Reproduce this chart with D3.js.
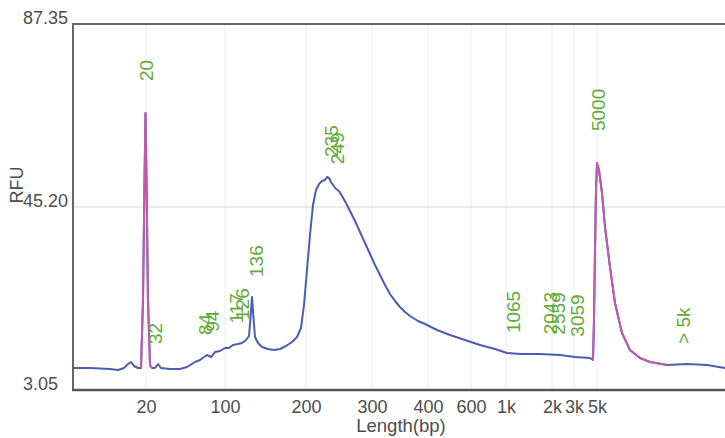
<!DOCTYPE html>
<html>
<head>
<meta charset="utf-8">
<script src="https://cdn.jsdelivr.net/npm/d3@7"></script>
<style>
  body { margin: 0; background: #fff; }
  svg { display: block; font-family: "Liberation Sans", Arial, sans-serif; }
</style>
</head>
<body>
<div id="chart"></div>
<script>
// Oś Y (RFU)
const yTicks = [3.05, 45.20, 87.35];

// Drabinka: rozmiar (bp) -> czas migracji
const ladderLabels = ["20", "100", "200", "300", "400", "600", "1k", "2k", "3k", "5k"];
const ladderTime = [7.3, 15.2, 23.3, 29.9, 35.5, 39.8, 43.3, 47.9, 50.1, 52.4];

// Przebieg sygnału (czas migracji, RFU)
const traceTime = [0, 1.7, 3.7, 4.5, 5.1, 5.5, 5.8, 6.1, 6.5, 6.8, 7.0, 7.15, 7.25, 7.35, 7.5, 7.7, 7.9,
  8.2, 8.5, 8.8, 9.7, 10.7, 11.4, 12.2, 12.7, 13.1, 13.4, 13.8, 14.2, 14.7, 15.2, 15.6, 16.0, 16.5,
  16.9, 17.3, 17.6, 17.75, 17.9, 18.05, 18.2, 18.5, 18.9, 19.5, 20.1, 20.7, 21.3, 21.9, 22.4, 22.8,
  23.1, 23.4, 23.7, 24.0, 24.3, 24.6, 24.9, 25.2, 25.4, 25.6, 25.8, 26.0, 26.3, 26.6, 26.9, 27.3,
  27.7, 28.2, 28.7, 29.2, 29.7, 30.2, 30.7, 31.2, 31.7, 32.2, 32.7, 33.2, 33.7, 34.5, 35.2, 36.4,
  37.7, 39.2, 40.7, 42.2, 43.4, 44.7, 46.7, 48.7, 50.2, 51.7, 52.0, 52.1, 52.2, 52.3, 52.4, 52.6,
  52.9, 53.2, 53.7, 54.2, 54.9, 55.7, 56.7, 57.7, 59.4, 61.4, 63.4, 65.2];
const traceRfu = [8.12, 8.12, 7.89, 7.66, 8.12, 9.04, 9.50, 8.58, 8.12, 8.12, 23.78, 51.42, 66.85, 51.42, 23.78, 8.81, 8.12,
  8.12, 9.04, 8.12, 7.89, 7.89, 8.35, 9.50, 9.96, 10.65, 11.11, 10.65, 11.80, 12.03, 12.72, 12.72, 13.41, 13.64,
  13.88, 14.57, 15.49, 19.63, 24.47, 19.63, 15.26, 13.88, 12.95, 12.49, 12.26, 12.49, 13.18, 14.11, 15.26, 17.33,
  22.63, 30.69, 38.75, 45.66, 49.12, 50.50, 51.19, 51.42, 52.11, 51.88, 50.96, 50.27, 49.35, 48.89, 47.73, 46.12,
  44.28, 41.98, 39.44, 36.91, 34.37, 31.84, 29.54, 27.23, 25.16, 23.55, 22.17, 21.02, 20.09, 18.94, 18.25, 16.87,
  15.72, 14.57, 13.41, 12.49, 11.57, 11.34, 11.34, 11.11, 10.65, 10.42, 9.96, 19.17, 35.30, 49.12, 55.33, 53.72,
  48.42, 40.59, 31.38, 23.09, 16.18, 12.26, 10.42, 9.50, 8.81, 9.04, 8.81, 8.12];

// Zakresy pików markerów (rysowane na różowo)
const markerSpans = [[6.75, 7.95], [51.95, 59.5]];

// Podpisy pików
const peakNames = ["20", "32", "84", "94", "117", "126", "136", "235", "249", "1065", "2043", "2559", "3059", "5000", "> 5k"];
const peakTime = [7.35, 8.2, 13.2, 13.9, 16.3, 16.9, 18.3, 25.8, 26.4, 44.0, 47.7, 48.5, 50.4, 52.5, 61.0];
const peakMarker = [true, false, false, false, false, false, false, false, false, false, false, false, false, true, false];

const W = 725, H = 438;
const plot = { left: 73, right: 725, top: 24, bottom: 390 };

const svg = d3.select("#chart").append("svg").attr("width", W).attr("height", H);

const x = d3.scaleLinear().domain([0, 65.2]).range([plot.left, plot.right]);
const y = d3.scaleLinear().domain([yTicks[0], yTicks[2]]).range([plot.bottom, plot.top]);

const data = traceTime.map((t, i) => ({ t: t, v: traceRfu[i] }));

// Siatka
svg.append("g").selectAll("line").data(ladderTime).enter().append("line")
  .attr("x1", (d) => x(d)).attr("x2", (d) => x(d))
  .attr("y1", plot.top).attr("y2", plot.bottom)
  .style("stroke", "#ececec").style("stroke-width", 1);
svg.append("line")
  .attr("x1", plot.left).attr("x2", plot.right)
  .attr("y1", y(yTicks[1])).attr("y2", y(yTicks[1]))
  .style("stroke", "#e4e4e4").style("stroke-width", 1.5);

// Linia sygnału
const line = d3.line().x((d) => x(d.t)).y((d) => y(d.v));
svg.append("path").datum(data).attr("d", line)
  .style("fill", "none").style("stroke", "#4b5cb4").style("stroke-width", 2)
  .style("stroke-linejoin", "round");

for (const span of markerSpans) {
  const seg = data.filter((d) => d.t >= span[0] && d.t <= span[1]);
  svg.append("path").datum(seg).attr("d", line)
    .style("fill", "none").style("stroke", "#c05aaa").style("stroke-width", 2)
    .style("stroke-linejoin", "round");
}

// Wartość sygnału w danym czasie (interpolacja liniowa)
function interp(t) {
  const i = d3.bisectRight(traceTime, t);
  if (i <= 0) return traceRfu[0];
  if (i >= traceTime.length) return traceRfu[traceRfu.length - 1];
  const t0 = traceTime[i - 1], t1 = traceTime[i];
  return traceRfu[i - 1] + (traceRfu[i] - traceRfu[i - 1]) * (t - t0) / (t1 - t0);
}

// Wysokość sygnału w pobliżu piku
function localMax(t) {
  let best = -Infinity;
  for (let s = t - 0.45; s <= t + 0.45; s += 0.05) {
    const v = interp(s);
    if (v > best) best = v;
  }
  for (const d of data) if (Math.abs(d.t - t) <= 0.45 && d.v > best) best = d.v;
  return best;
}

// Podpisy pików
svg.append("g").selectAll("text").data(peakNames).enter().append("text")
  .attr("transform", (d, i) => {
    const px = x(peakTime[i]);
    const py = y(localMax(peakTime[i])) - (peakMarker[i] ? 32 : 20);
    return `translate(${px},${py}) rotate(-90)`;
  })
  .attr("dominant-baseline", "central")
  .style("font-size", "19px")
  .style("fill", "#62aa38")
  .text((d) => d);

// Osie
const axisColor = "#666";
svg.append("line").attr("x1", plot.left).attr("x2", plot.left).attr("y1", plot.top - 1).attr("y2", plot.bottom + 1)
  .style("stroke", axisColor).style("stroke-width", 2);
svg.append("line").attr("x1", plot.left - 1).attr("x2", plot.right).attr("y1", plot.top).attr("y2", plot.top)
  .style("stroke", axisColor).style("stroke-width", 2);
svg.append("line").attr("x1", plot.left - 1).attr("x2", plot.right).attr("y1", plot.bottom).attr("y2", plot.bottom)
  .style("stroke", "#555").style("stroke-width", 2.5);

const xAxis = svg.append("g")
  .attr("transform", `translate(0,${plot.bottom})`)
  .call(d3.axisBottom(x).tickValues(ladderTime).tickSize(0).tickPadding(10)
    .tickFormat((d, i) => ladderLabels[i]));
xAxis.select(".domain").remove();
xAxis.selectAll("text").style("font-size", "18px").style("fill", "#4d4d4d")
  .style("font-family", "'Liberation Sans', Arial, sans-serif");

svg.append("g").selectAll("text").data(yTicks).enter().append("text")
  .attr("x", 23).attr("y", (d) => y(d))
  .style("font-size", "18px").style("fill", "#4d4d4d")
  .text((d) => d.toFixed(2));

svg.append("text")
  .attr("x", 401).attr("y", 432).attr("text-anchor", "middle")
  .style("font-size", "18.5px").style("fill", "#4d4d4d")
  .text("Length(bp)");

svg.append("text")
  .attr("transform", `translate(23,185) rotate(-90)`)
  .attr("text-anchor", "middle")
  .style("font-size", "18px").style("fill", "#4d4d4d")
  .text("RFU");
</script>
</body>
</html>
